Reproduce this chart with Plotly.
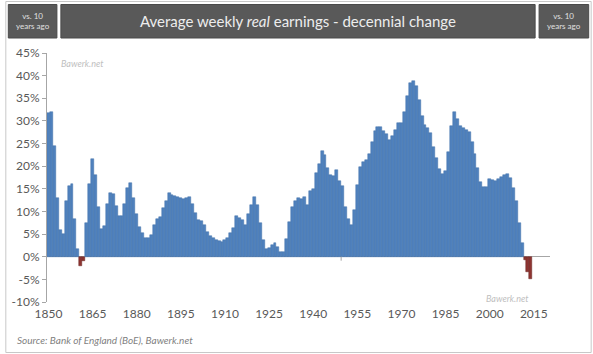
import plotly.graph_objects as go

# ---------------- data ----------------
years = list(range(1850, 2015))
change_pct = [
    # 1850-1877
    31.7, 32.0, 24.5, 13.0, 6.0, 5.0, 12.3, 15.7, 16.0, 8.3,
    1.7, -2.0, -1.0, 7.4, 16.0, 21.5, 18.0, 11.0, 6.2, 6.8,
    11.6, 14.1, 13.8, 11.2, 9.0, 9.1, 11.6, 15.1,
    # 1878-1904
    16.2, 12.9, 9.4, 6.6, 5.3, 4.1, 4.2, 4.8, 7.0, 8.3,
    8.8, 10.8, 12.2, 14.1, 13.6, 13.5, 13.1, 13.0, 12.7, 13.0,
    13.2, 11.6, 9.7, 8.1, 7.8, 6.9, 5.5,
    # 1905-1932
    4.5, 4.1, 3.8, 3.5, 3.3, 3.6, 4.1, 5.2, 6.3, 9.0,
    8.5, 8.1, 7.0, 9.4, 11.4, 13.3, 11.4, 7.4, 3.7, 1.6,
    2.0, 2.6, 3.1, 2.1, 1.1, 1.0, 3.9, 7.7,
    # 1933-1961
    11.0, 12.2, 13.0, 12.7, 13.3, 11.4, 14.5, 15.0, 18.4, 20.5,
    23.4, 22.5, 19.7, 18.0, 17.8, 19.2, 16.8, 15.6, 11.0, 8.3,
    7.0, 10.3, 15.8, 19.9, 21.0, 21.4, 22.6, 25.4, 27.8,
    # 1962-1982
    28.7, 28.6, 27.8, 27.1, 25.8, 26.7, 28.0, 29.5, 29.5, 32.0,
    35.4, 38.3, 38.9, 37.7, 34.6, 31.1, 29.1, 28.4, 27.3, 24.2,
    21.7,
    # 1983-2014
    19.3, 18.2, 18.9, 23.2, 28.9, 32.0, 30.5, 28.9, 28.5, 28.0,
    27.6, 25.4, 22.7, 19.7, 16.6, 15.5, 15.5, 17.1, 16.9, 16.8,
    17.1, 17.7, 18.1, 18.3, 17.3, 15.2, 12.2, 7.5, 3.1, -0.7,
    -3.3, -4.9,
]
y_tickvals = [-10, -5, 0, 5, 10, 15, 20, 25, 30, 35, 40, 45]
y_ticktext = ["-10%", "-5%", "0%", "5%", "10%", "15%", "20%", "25%",
              "30%", "35%", "40%", "45%"]
x_tickvals = [1850, 1865, 1880, 1895, 1910, 1925, 1940, 1955, 1970, 1985, 2000, 2015]
title_text = "Average weekly <i>real</i> earnings - decennial change"
side_text = "vs. 10<br>years ago"
source_text = "Source: Bank of England (BoE), Bawerk.net"
watermark = "Bawerk.net"

# ---------------- layout helpers ----------------
W, H = 593, 354
ML, MR, MT, MB = 43, 43, 53, 52
PW, PH = W - ML - MR, H - MT - MB


def px(x):
    return (x - ML) / PW


def py(y):
    return (H - MB - y) / PH


FONT = "Lato"
TXT = "#595959"
AX = "#a6a6a6"

bar_colors = ["#4F81BD" if v >= 0 else "#8E3431" for v in change_pct]
line_colors = ["#4272AA" if v >= 0 else "#6B2523" for v in change_pct]

fig = go.Figure()
fig.add_trace(go.Bar(
    x=years, y=change_pct, width=1.0,
    marker=dict(color=bar_colors, line=dict(color=line_colors, width=0.5)),
    showlegend=False, hoverinfo="x+y",
))

yax_common = dict(
    range=[-10, 45], tickvals=y_tickvals, ticktext=y_ticktext,
    showgrid=False, showline=True, linecolor=AX, linewidth=1,
    ticks="outside", ticklen=4, tickcolor=AX,
    tickfont=dict(family=FONT, size=12, color=TXT),
    fixedrange=True,
)

fig.update_layout(
    width=W, height=H,
    margin=dict(l=ML, r=MR, t=MT, b=MB),
    paper_bgcolor="white", plot_bgcolor="white",
    bargap=0,
    xaxis=dict(
        range=[1849.5, 2020.5], tickvals=x_tickvals,
        showgrid=False, showline=False, zeroline=False, ticks="",
        tickfont=dict(family=FONT, size=12, color=TXT),
        ticklabelstandoff=3,
    ),
    yaxis=dict(**yax_common, zeroline=True, zerolinecolor=AX, zerolinewidth=1),
    yaxis2=dict(**yax_common, overlaying="y", side="right", zeroline=False),
)

shapes = []
# outer frame
shapes.append(dict(type="rect", xref="paper", yref="paper",
                   x0=px(1.5), x1=px(591.5), y0=py(352.5), y1=py(1.5),
                   line=dict(color="#c8c8c8", width=1), fillcolor="rgba(0,0,0,0)", layer="below"))
# title boxes
for x0, x1 in [(4, 53), (57, 535), (539, 589)]:
    shapes.append(dict(type="rect", xref="paper", yref="paper",
                       x0=px(x0), x1=px(x1), y0=py(38), y1=py(4.5),
                       line=dict(color="#4a4a4a", width=1), fillcolor="#595959"))
# small category tick on the axis
shapes.append(dict(type="line", xref="x", yref="paper",
                   x0=1949.5, x1=1949.5, y0=py(256.7), y1=py(260.7),
                   line=dict(color=AX, width=1)))

annotations = [
    dict(text=title_text, x=px(296), y=py(21), xref="paper", yref="paper",
         showarrow=False, font=dict(family=FONT, size=15, color="#ededed"),
         xanchor="center", yanchor="middle"),
    dict(text=side_text, x=px(28.5), y=py(21), xref="paper", yref="paper",
         showarrow=False, font=dict(family=FONT, size=8, color="#e0e0e0"),
         xanchor="center", yanchor="middle"),
    dict(text=side_text, x=px(564), y=py(21), xref="paper", yref="paper",
         showarrow=False, font=dict(family=FONT, size=8, color="#e0e0e0"),
         xanchor="center", yanchor="middle"),
    dict(text="<i>" + source_text + "</i>", x=px(11), y=py(340), xref="paper", yref="paper",
         showarrow=False, font=dict(family=FONT, size=10, color="#7f7f7f"),
         xanchor="left", yanchor="middle"),
    dict(text="<i>" + watermark + "</i>", x=px(55), y=py(63), xref="paper", yref="paper",
         showarrow=False, font=dict(family=FONT, size=9, color="#c0c0c0"),
         xanchor="left", yanchor="middle"),
    dict(text="<i>" + watermark + "</i>", x=px(531), y=py(298), xref="paper", yref="paper",
         showarrow=False, font=dict(family=FONT, size=9, color="#c0c0c0"),
         xanchor="right", yanchor="middle"),
]

fig.update_layout(shapes=shapes, annotations=annotations)
fig.write_html("out.html")
